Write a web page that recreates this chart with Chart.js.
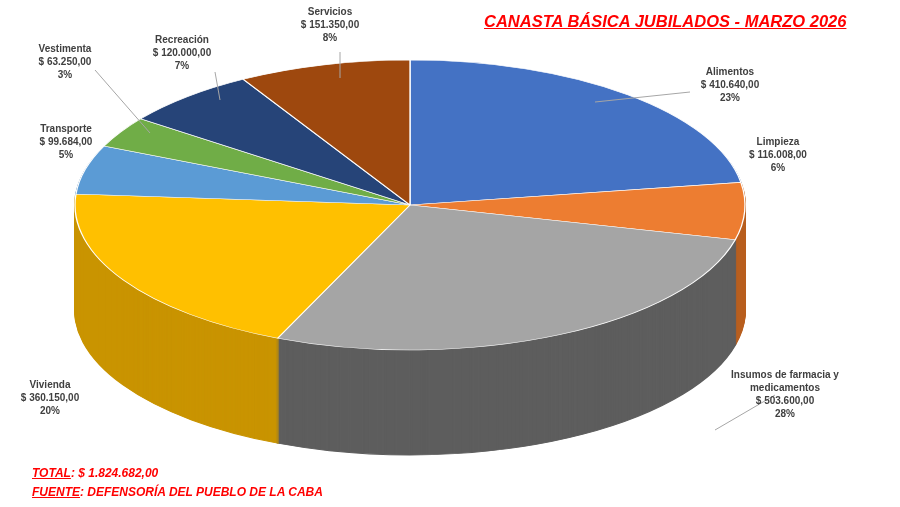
<!DOCTYPE html>
<html><head><meta charset="utf-8">
<script src="https://cdn.jsdelivr.net/npm/chart.js@4"></script>
<style>
body{margin:0;background:#fff;font-family:"Liberation Sans",Arial,sans-serif}
#wrap{position:relative;width:900px;height:507px}
canvas{position:absolute;left:0;top:0}
.lb{position:absolute;font-size:10px;font-weight:bold;color:#404040;text-align:center;line-height:13px;transform:translateX(-50%);white-space:nowrap}
.red{position:absolute;color:#f00;font-weight:bold;font-style:italic;white-space:nowrap}
</style></head><body>
<div id="wrap"><canvas id="c" width="900" height="507"></canvas>
<div class="red" style="left:484px;top:12px;font-size:16.5px;text-decoration:underline">CANASTA BÁSICA JUBILADOS - MARZO 2026</div>
<div class="red" style="left:32px;top:466px;font-size:12px"><u>TOTAL</u>: $ 1.824.682,00</div>
<div class="red" style="left:32px;top:485px;font-size:12px"><u>FUENTE</u>: DEFENSORÍA DEL PUEBLO DE LA CABA</div>
<div id="labels"></div>
</div>
<script>
const categories=["Alimentos","Limpieza","Insumos de farmacia y medicamentos","Vivienda","Transporte","Vestimenta","Recreación","Servicios"];
const values=[410640,116008,503600,360150,99684,63250,120000,151350];
const valueLabels=["$ 410.640,00","$ 116.008,00","$ 503.600,00","$ 360.150,00","$ 99.684,00","$ 63.250,00","$ 120.000,00","$ 151.350,00"];
const pctLabels=["23%","6%","28%","20%","5%","3%","7%","8%"];
const colors=["#4472C4","#ED7D31","#A5A5A5","#FFC000","#5B9BD5","#70AD47","#264478","#9E480E"];
const sides=["#2f5597","#b85f1f","#5e5e5e","#c99400","#3f77a8","#4e8030","#1a2f55","#6e320a"];
const labelPos=[[730,65,"Alimentos"],[778,135,"Limpieza"],[785,368,"Insumos de farmacia y<br>medicamentos"],[50,378,"Vivienda"],[66,122,"Transporte"],[65,42,"Vestimenta"],[182,33,"Recreación"],[330,5,"Servicios"]];
const L=document.getElementById('labels');
labelPos.forEach((p,i)=>{const d=document.createElement('div');d.className='lb';d.style.left=p[0]+'px';d.style.top=p[1]+'px';d.innerHTML=p[2]+'<br>'+valueLabels[i]+'<br>'+pctLabels[i];L.appendChild(d);});
const CX=410,CY=205,RX=335,RY=145,DEPTH=105;
const lines=[[690,92,595,102],[775,395,715,430],[95,70,150,133],[215,72,220,100],[340,52,340,78]];
const p3d={id:'p3d',
 beforeDatasetsDraw(chart){const ctx=chart.ctx;const arcs=chart.getDatasetMeta(0).data;const a0=arcs[0];const r=a0.outerRadius;
  for(let d=DEPTH;d>=1;d--){ctx.save();ctx.translate(CX,CY+d);ctx.scale(RX/r,RY/r);
   arcs.forEach((a,i)=>{ctx.beginPath();ctx.moveTo(0,0);ctx.arc(0,0,r,a.startAngle,a.endAngle);ctx.closePath();ctx.fillStyle=sides[i];ctx.strokeStyle=sides[i];ctx.lineWidth=1.5;ctx.fill();ctx.stroke();});
   ctx.restore();}
  ctx.save();ctx.translate(CX,CY);ctx.scale(RX/r,RY/r);ctx.translate(-a0.x,-a0.y);},
 afterDatasetsDraw(chart){const ctx=chart.ctx;ctx.restore();ctx.save();ctx.strokeStyle='#a6a6a6';ctx.lineWidth=1;
  lines.forEach(l=>{ctx.beginPath();ctx.moveTo(l[0],l[1]);ctx.lineTo(l[2],l[3]);ctx.stroke();});ctx.restore();}
};
new Chart(document.getElementById('c'),{type:'pie',
 data:{labels:categories,datasets:[{data:values,backgroundColor:colors,borderColor:'#fff',borderWidth:1}]},
 options:{responsive:false,animation:false,plugins:{legend:{display:false},tooltip:{enabled:false}}},
 plugins:[p3d]});
</script></body></html>
